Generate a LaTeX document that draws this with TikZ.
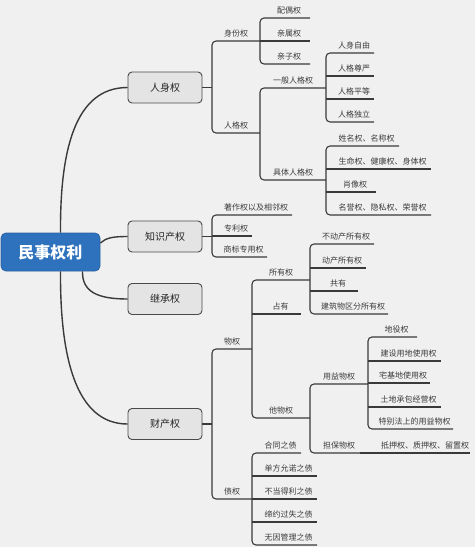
\documentclass[tikz,border=0pt]{standalone}
\usepackage{fontspec}
\setmainfont{Noto Sans CJK SC}
\definecolor{bgc}{HTML}{F0F0F0}
\definecolor{linec}{HTML}{3A3A3A}
\definecolor{boxfill}{HTML}{E4E4E4}
\definecolor{boxdraw}{HTML}{4A4A4A}
\definecolor{rootfill}{HTML}{2E72BD}
\definecolor{rootdraw}{HTML}{2862A6}
\definecolor{labelc}{HTML}{3C3C3C}
\newcommand\mmtopic[6]{%
  \coordinate (#1-l) at (#2,#4);
  \coordinate (#1-r) at (#3,#4);
  \node[lbl, anchor=base] (#1) at ({(#2+#3)/2+#5},{#4-5}) {#6};}
\newcommand\mmbr[2]{\draw[br, rounded corners=4pt] (#1-r) -- (#1-l) -- (#2-l) -- (#2-r);}
\newcommand\mmln[1]{\draw[br] (#1-l) -- (#1-r);}
\begin{document}
\begin{tikzpicture}[x=1pt,y=-1pt,
  lbl/.style={font=\fontsize{8}{10}\selectfont, text=labelc, inner sep=0pt},
  br/.style={draw=linec, line width=1.1pt},
  cv/.style={draw=linec, line width=1.4pt},
  mainbox/.style={draw=boxdraw, fill=boxfill, line width=0.9pt, rounded corners=4pt,
    minimum width=74pt, minimum height=31pt, inner sep=0pt,
    font=\fontsize{10}{12}\selectfont, text=black!85},
  rootbox/.style={draw=rootdraw, fill=rootfill, line width=0.8pt, rounded corners=5pt,
    minimum width=99pt, minimum height=38pt, inner sep=0pt,
    font=\fontsize{16}{19}\selectfont\bfseries, text=white}]
\useasboundingbox (0,0) rectangle (475,547);
\fill[bgc] (0,0) rectangle (475,547);

% nodes
\node[rootbox] (root) at (50.5,252) {民事权利};
\node[mainbox] (rs) at (165,87.5) {人身权};
\node[mainbox] (zs) at (165,236.5) {知识产权};
\node[mainbox] (jc) at (165,299) {继承权};
\node[mainbox] (cc) at (165,424) {财产权};

% 人身权
\mmtopic{sf}{212}{260}{41}{0}{身份权}
\mmtopic{rg}{212}{260}{133}{0}{人格权}
\mmtopic{po}{260}{310}{18}{4}{配偶权}
\mmtopic{qs}{260}{310}{41}{4}{亲属权}
\mmtopic{qz}{260}{310}{64}{4}{亲子权}
\mmtopic{yb}{260}{326}{88}{0}{一般人格权}
\mmtopic{jt}{260}{326}{180}{0}{具体人格权}
\mmtopic{a1}{326}{374}{53}{4}{人身自由}
\mmtopic{a2}{326}{374}{76}{4}{人格尊严}
\mmtopic{a3}{326}{374}{99}{4}{人格平等}
\mmtopic{a4}{326}{374}{122}{4}{人格独立}
\mmtopic{b1}{326}{399}{146}{4}{姓名权、名称权}
\mmtopic{b2}{326}{431}{169}{4}{生命权、健康权、身体权}
\mmtopic{b3}{326}{376}{192}{4}{肖像权}
\mmtopic{b4}{326}{431}{215}{4}{名誉权、隐私权、荣誉权}

% 知识产权
\mmtopic{c1}{212}{292}{215}{4}{著作权以及相邻权}
\mmtopic{c2}{212}{252}{236}{4}{专利权}
\mmtopic{c3}{212}{267}{257}{4}{商标专用权}

% 财产权
\mmtopic{wq}{212}{252}{349}{0}{物权}
\mmtopic{zq}{212}{252}{499}{0}{债权}
\mmtopic{sy}{252}{310}{280}{0}{所有权}
\mmtopic{zy}{252}{301}{314}{4}{占有}
\mmtopic{tw}{252}{310}{418}{0}{他物权}
\mmtopic{d1}{310}{374}{244}{4}{不动产所有权}
\mmtopic{d2}{310}{366}{268}{4}{动产所有权}
\mmtopic{d3}{310}{358}{291}{4}{共有}
\mmtopic{d4}{310}{388}{314}{4}{建筑物区分所有权}
\mmtopic{yy}{310}{368}{384}{0}{用益物权}
\mmtopic{db}{310}{360}{453}{4}{担保物权}
\mmtopic{e1}{368}{417}{337}{4}{地役权}
\mmtopic{e2}{368}{441}{361}{4}{建设用地使用权}
\mmtopic{e3}{368}{430}{383}{4}{宅基地使用权}
\mmtopic{e4}{368}{441}{407}{4}{土地承包经营权}
\mmtopic{e5}{368}{453}{429}{4}{特别法上的用益物权}
\mmtopic{f1}{360}{470}{453}{10}{抵押权、质押权、留置权}
\mmtopic{g1}{252}{301}{453}{4}{合同之债}
\mmtopic{g2}{252}{317}{476}{4}{单方允诺之债}
\mmtopic{g3}{252}{317}{499}{4}{不当得利之债}
\mmtopic{g4}{252}{317}{522}{4}{缔约过失之债}
\mmtopic{g5}{252}{317}{545}{4}{无因管理之债}

% curves from root
\draw[cv] ([xshift=10pt]root.north) .. controls (60,150) and (75,87.5) .. (rs.west);
\draw[cv] ([yshift=9pt]root.east) .. controls (106,238) and (112,236.5) .. (zs.west);
\draw[cv] ([xshift=32pt]root.south) .. controls (82,292) and (98,299) .. (jc.west);
\draw[cv] ([xshift=10pt]root.south) .. controls (60,355) and (75,424) .. (cc.west);

% connectors
\draw[br] (rs.east) -- (rs.east -| sf-l);
\mmbr{sf}{rg}
\mmbr{po}{qz} \mmln{qs}
\mmbr{yb}{jt}
\mmbr{a1}{a4} \mmln{a2} \mmln{a3}
\mmbr{b1}{b4} \mmln{b2} \mmln{b3}

\draw[br] (zs.east) -- (zs.east -| c1-l);
\mmbr{c1}{c3} \mmln{c2}

\draw[br] (cc.east) -- (cc.east -| wq-l);
\mmbr{wq}{zq}
\mmbr{sy}{tw} \mmln{zy}
\mmbr{d1}{d4} \mmln{d2} \mmln{d3}
\mmbr{yy}{db}
\mmbr{e1}{e5} \mmln{e2} \mmln{e3} \mmln{e4}
\mmln{f1}
\mmbr{g1}{g5} \mmln{g2} \mmln{g3} \mmln{g4}
\end{tikzpicture}
\end{document}
